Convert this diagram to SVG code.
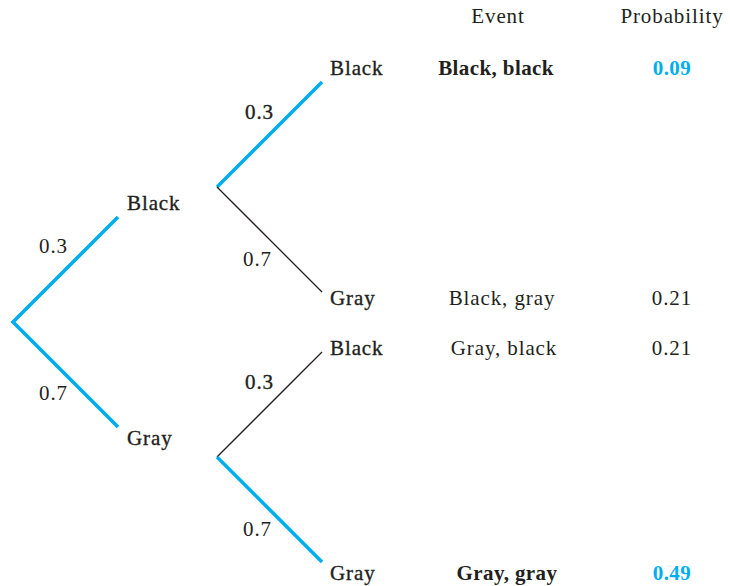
<svg xmlns="http://www.w3.org/2000/svg" width="730" height="586" viewBox="0 0 730 586">
  <style>
    text { font-family: "Liberation Serif", "Times New Roman", serif; font-size: 21px; fill: #231f20; letter-spacing: 0.9px; }
    .n { stroke: #231f20; stroke-width: 0.35; }
    .b { font-weight: bold; letter-spacing: 0.4px; }
    .m { text-anchor: middle; }
    .hl { fill: #00aeef; font-weight: bold; letter-spacing: 0.4px; }
    .blue { stroke: #00aeef; stroke-width: 3.6; fill: none; stroke-linecap: butt; }
    .thin { stroke: #231f20; stroke-width: 1.3; fill: none; }
  </style>
  <rect width="730" height="586" fill="#ffffff"/>

  <!-- branches -->
  <g id="connectors">
    <polyline class="blue" points="118,217 13,322 118,427"/>
    <line class="blue" x1="217" y1="187" x2="322" y2="82"/>
    <line class="thin" x1="217" y1="187" x2="322" y2="292"/>
    <line class="thin" x1="217" y1="457" x2="322" y2="352"/>
    <line class="blue" x1="217" y1="457" x2="322" y2="562"/>
  </g>

  <!-- branch probabilities -->
  <g id="edge-labels">
    <text x="39" y="253">0.3</text>
    <text x="39" y="400">0.7</text>
    <text class="n" x="245" y="119">0.3</text>
    <text x="243" y="266">0.7</text>
    <text class="n" x="245" y="389">0.3</text>
    <text x="243" y="536">0.7</text>
  </g>

  <g id="n-black1"><text class="n" x="127" y="210">Black</text></g>
  <g id="n-gray1"><text class="n" x="127" y="445">Gray</text></g>
  <g id="n-bb"><text class="n" x="330" y="75">Black</text></g>
  <g id="n-bg"><text class="n" x="330" y="305">Gray</text></g>
  <g id="n-gb"><text class="n" x="330" y="355">Black</text></g>
  <g id="n-gg"><text class="n" x="330" y="580">Gray</text></g>

  <!-- outcome table -->
  <g id="table">
    <text class="m" x="498" y="23">Event</text>
    <text class="m" x="672" y="23">Probability</text>
    <text class="m b" x="496" y="75">Black, black</text>
    <text class="m hl" x="672" y="75">0.09</text>
    <text class="m" x="502" y="305">Black, gray</text>
    <text class="m" x="672" y="305">0.21</text>
    <text class="m" x="504" y="355">Gray, black</text>
    <text class="m" x="672" y="355">0.21</text>
    <text class="m b" x="507" y="580">Gray, gray</text>
    <text class="m hl" x="672" y="580">0.49</text>
  </g>
</svg>
